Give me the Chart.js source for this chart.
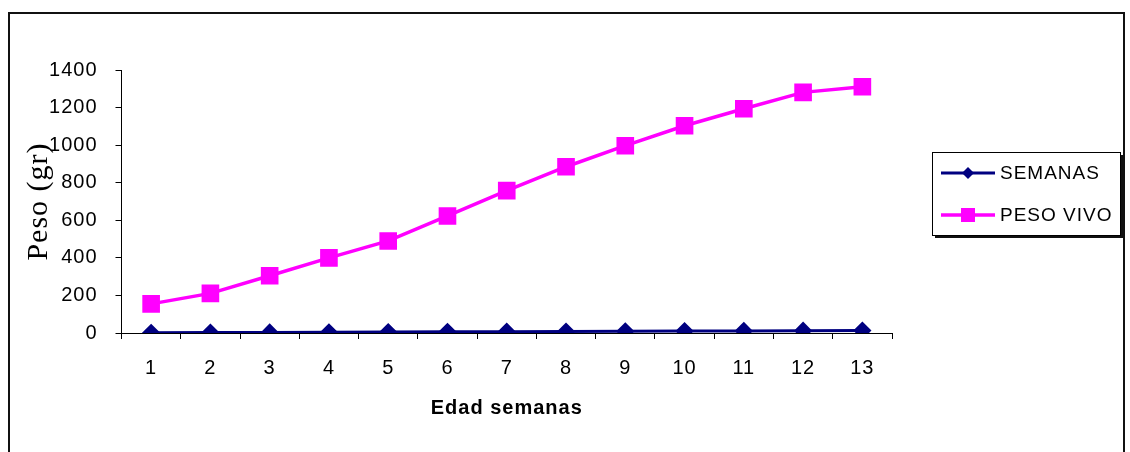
<!DOCTYPE html>
<html>
<head>
<meta charset="utf-8">
<script src="https://cdn.jsdelivr.net/npm/chart.js@4/dist/chart.umd.min.js"></script>
<style>
  html, body { margin: 0; padding: 0; background: #fff; }
  #wrap { width: 1130px; height: 452px; position: relative; }
</style>
</head>
<body>
<div id="wrap"><canvas id="c" width="1130" height="452"></canvas></div>
<script>
// Age in weeks and live weight (g)
const weeks = ['1', '2', '3', '4', '5', '6', '7', '8', '9', '10', '11', '12', '13'];
const semanas = [1, 2, 3, 4, 5, 6, 7, 8, 9, 10, 11, 12, 13];
const pesoVivo = [155, 211, 305, 400, 490, 623, 758, 885, 997, 1103, 1194, 1281, 1311];
const yTicks = [0, 200, 400, 600, 800, 1000, 1200, 1400];

const NAVY = '#000080';
const MAGENTA = '#FF00FF';

// Outer frame around the whole chart object
const framePlugin = {
  id: 'frame',
  beforeDraw(chart) {
    const ctx = chart.ctx;
    ctx.save();
    ctx.fillStyle = '#fff';
    ctx.fillRect(0, 0, chart.width, chart.height);
    ctx.strokeStyle = '#111';
    ctx.lineWidth = 2;
    ctx.beginPath();
    ctx.moveTo(9, chart.height + 5);
    ctx.lineTo(9, 13);
    ctx.lineTo(1124, 13);
    ctx.lineTo(1124, chart.height + 5);
    ctx.stroke();
    ctx.restore();
    ctx.letterSpacing = '1px';
  }
};

function marker(ctx, style, x, y, r, color) {
  ctx.fillStyle = color;
  ctx.beginPath();
  if (style === 'rect') {
    ctx.rect(x - r, y - r, 2 * r, 2 * r);
  } else {
    ctx.moveTo(x, y - r);
    ctx.lineTo(x + r, y);
    ctx.lineTo(x, y + r);
    ctx.lineTo(x - r, y);
    ctx.closePath();
  }
  ctx.fill();
}

// Boxed legend on the right, built from the datasets
const boxLegend = {
  id: 'boxLegend',
  afterDraw(chart) {
    const ctx = chart.ctx;
    const bx = 932, by = 152, bw = 188, bh = 83;
    ctx.save();
    ctx.fillStyle = '#111';
    ctx.fillRect(bx + 3, by + 3, bw, bh);
    ctx.fillStyle = '#fff';
    ctx.fillRect(bx, by, bw, bh);
    ctx.strokeStyle = '#000';
    ctx.lineWidth = 1;
    ctx.strokeRect(bx + 0.5, by + 0.5, bw, bh);
    ctx.letterSpacing = '1px';
    ctx.font = '19px Arial, "Liberation Sans", sans-serif';
    ctx.textBaseline = 'middle';
    chart.data.datasets.forEach((ds, i) => {
      const y = by + 21 + i * 42;
      ctx.strokeStyle = ds.borderColor;
      ctx.lineWidth = ds.borderWidth;
      ctx.beginPath();
      ctx.moveTo(941, y);
      ctx.lineTo(995, y);
      ctx.stroke();
      marker(ctx, ds.pointStyle === 'rect' ? 'rect' : 'diamond', 968, y,
             ds.pointStyle === 'rect' ? 7 : 6, ds.backgroundColor);
      ctx.fillStyle = '#000';
      ctx.fillText(ds.label, 1000, y + 1);
    });
    ctx.restore();
  }
};

new Chart(document.getElementById('c'), {
  type: 'line',
  data: {
    labels: weeks,
    datasets: [
      {
        label: 'SEMANAS',
        data: semanas,
        borderColor: NAVY,
        backgroundColor: NAVY,
        borderWidth: 3,
        pointStyle: 'rectRot',
        pointRadius: 7,
        pointHoverRadius: 7,
        tension: 0
      },
      {
        label: 'PESO VIVO',
        data: pesoVivo,
        borderColor: MAGENTA,
        backgroundColor: MAGENTA,
        borderWidth: 3.5,
        pointStyle: 'rect',
        pointRadius: 10,
        pointHoverRadius: 10,
        tension: 0
      }
    ]
  },
  options: {
    responsive: false,
    animation: false,
    events: [],
    layout: { padding: { left: 10, right: 238, top: 70, bottom: 0 } },
    plugins: { legend: { display: false }, tooltip: { enabled: false } },
    scales: {
      x: {
        type: 'category',
        offset: true,
        border: { display: true, color: '#000', width: 1 },
        grid: { display: true, offset: true, drawOnChartArea: false, drawTicks: true, tickLength: 6, color: '#000' },
        ticks: { color: '#000', padding: 17, font: { family: 'Arial, "Liberation Sans", sans-serif', size: 20 }, maxRotation: 0 },
        title: {
          display: true,
          text: 'Edad semanas',
          color: '#000',
          font: { family: 'Arial, "Liberation Sans", sans-serif', size: 20, weight: 'bold' },
          padding: { top: 0, bottom: 32 }
        },
        afterFit(scale) { scale.height = 119; }
      },
      y: {
        min: 0,
        max: 1400,
        afterBuildTicks(scale) { scale.ticks = yTicks.map(v => ({ value: v })); },
        border: { display: true, color: '#000', width: 1 },
        grid: { display: true, drawOnChartArea: false, drawTicks: true, tickLength: 6, color: '#000' },
        ticks: {
          color: '#000',
          padding: 18,
          font: { family: 'Arial, "Liberation Sans", sans-serif', size: 20 },
          callback: v => String(v)
        },
        title: {
          display: true,
          text: 'Peso (gr)',
          color: '#000',
          font: { family: '"Liberation Serif", "Times New Roman", serif', size: 30 },
          padding: { top: 11, bottom: 0 }
        },
        afterFit(scale) { scale.width = 111.5; }
      }
    }
  },
  plugins: [framePlugin, boxLegend]
});
</script>
</body>
</html>
